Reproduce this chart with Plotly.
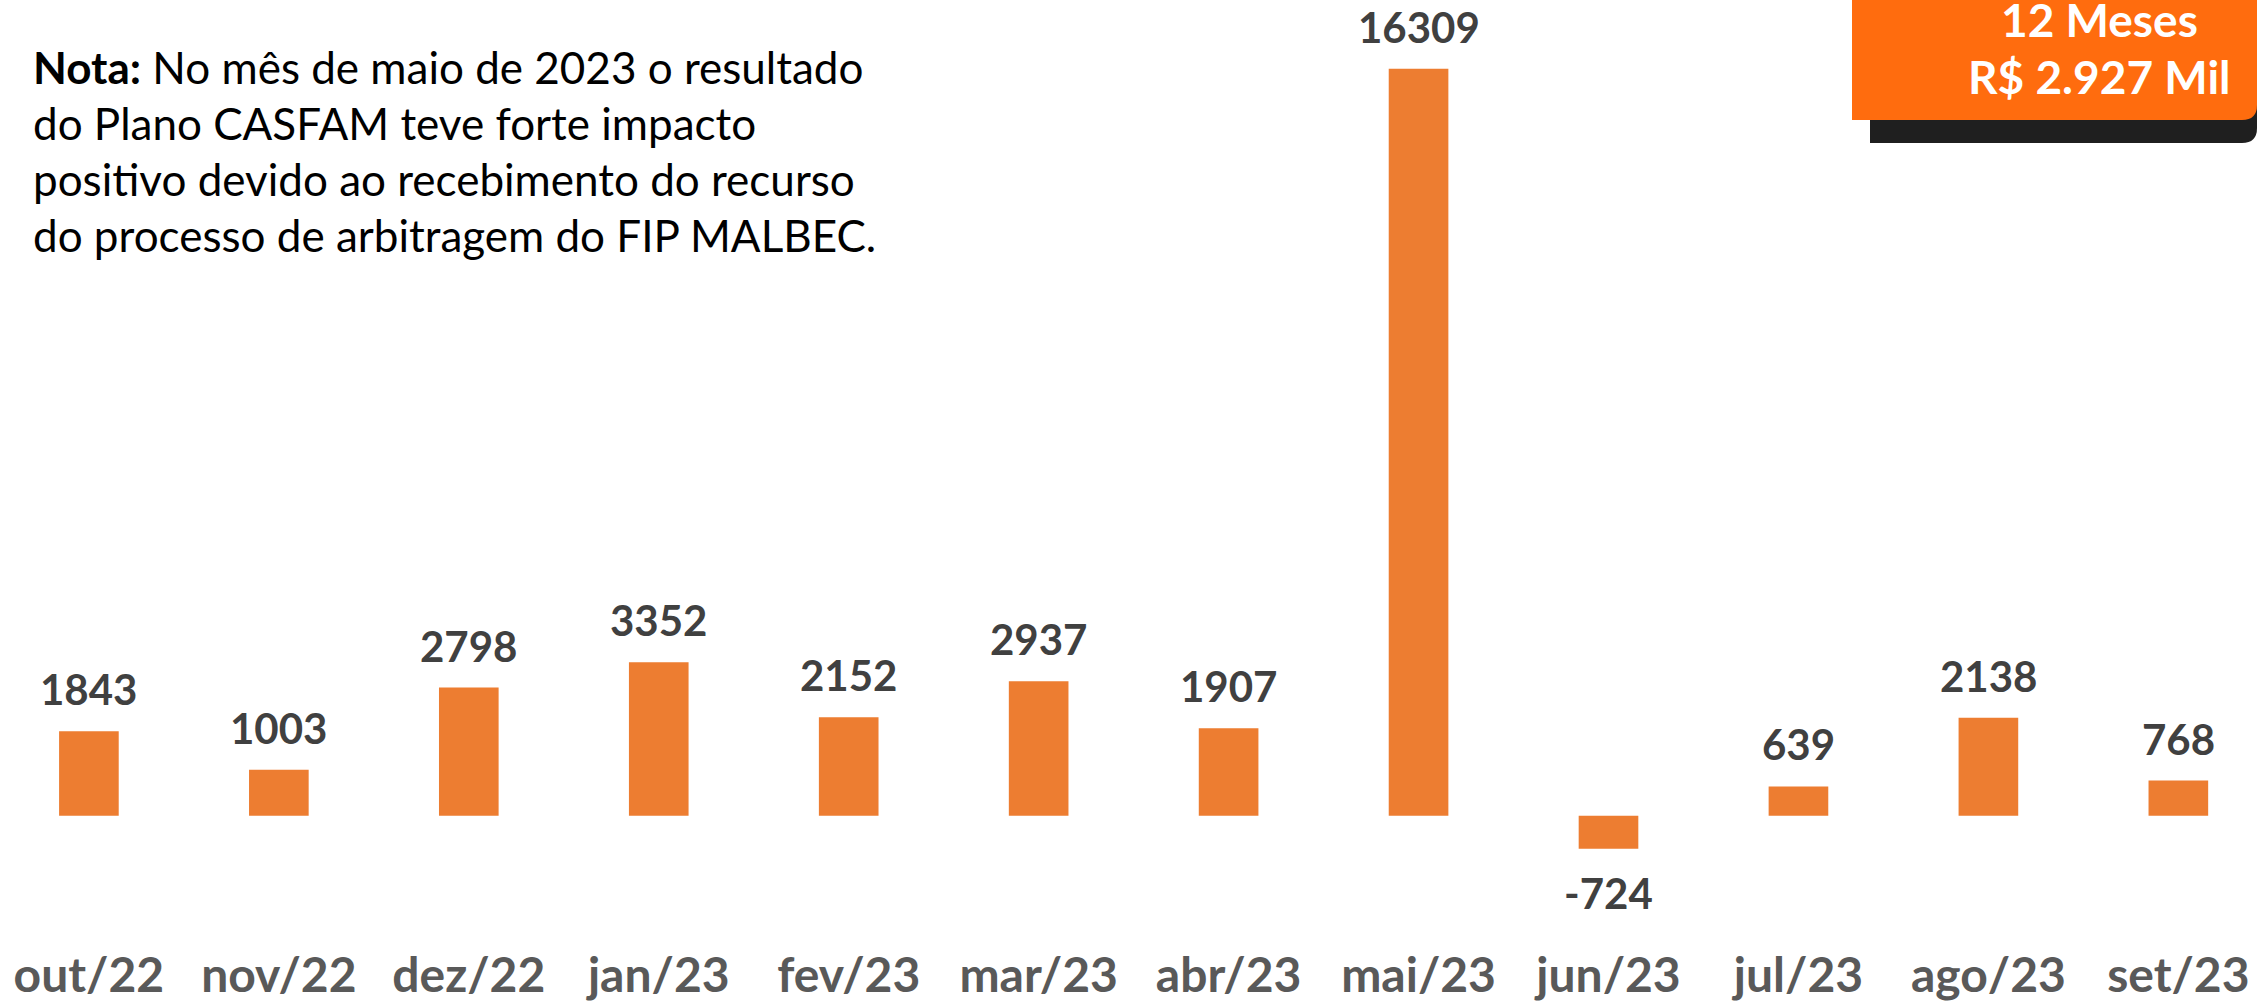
import plotly.graph_objects as go

W, H = 2257, 1001

months = ["out/22", "nov/22", "dez/22", "jan/23", "fev/23", "mar/23",
          "abr/23", "mai/23", "jun/23", "jul/23", "ago/23", "set/23"]
values = [1843, 1003, 2798, 3352, 2152, 2937, 1907, 16309, -724, 639, 2138, 768]

note_lines = [
    "<b>Nota:</b> No mês de maio de 2023 o resultado",
    "do Plano CASFAM teve forte impacto",
    "positivo devido ao recebimento do recurso",
    "do processo de arbitragem do FIP MALBEC.",
]
box_lines = ["12 Meses", "R$ 2.927 Mil"]

BAR = "#ED7D31"
FONT = "Lato"

# layout geometry (pixels)
plot_bottom = 943
baseline_px = 815.7
px_per_unit = 0.0458
y_top = baseline_px / px_per_unit
y_bot = (baseline_px - plot_bottom) / px_per_unit
cat0_px, cat_step = 88.9, 189.95
x_lo = -cat0_px / cat_step
x_hi = (W - cat0_px) / cat_step

fig = go.Figure()
fig.add_trace(go.Bar(
    x=months, y=values, marker=dict(color=BAR, line=dict(width=0)),
    width=0.314, hoverinfo="skip", showlegend=False,
))

annotations = []
for m, v in zip(months, values):
    annotations.append(dict(
        x=m, y=v, xref="x", yref="y", text=f"<b>{v}</b>", showarrow=False,
        yanchor="middle", xanchor="center", yshift=42 if v >= 0 else -44,
        font=dict(family=FONT, size=42, color="#404040"),
    ))

def py(px):
    return 1 - px / H

note_y = [67, 123, 179, 235]
for t, yy in zip(note_lines, note_y):
    annotations.append(dict(
        x=31 / W, y=py(yy), xref="paper", yref="paper", text=t,
        showarrow=False, xanchor="left", yanchor="middle",
        font=dict(family=FONT, size=44, color="#000000"),
    ))

for t, yy in zip(box_lines, [20, 77]):
    annotations.append(dict(
        x=2099 / W, y=py(yy), xref="paper", yref="paper", text=f"<b>{t}</b>",
        showarrow=False, xanchor="center", yanchor="middle",
        font=dict(family=FONT, size=46, color="#FFFFFF"),
    ))

r_x, r_y = 15 / W, 15 / H
def box_path(x0, x1, y0px, y1px):
    y0, y1 = py(y1px), py(y0px)  # y0 bottom, y1 top (paper)
    return (f"M {x0},{y1} L {x1},{y1} L {x1},{y0 + r_y} "
            f"Q {x1},{y0} {x1 - r_x},{y0} L {x0},{y0} Z")

shapes = [
    dict(type="path", xref="paper", yref="paper",
         path=box_path(1870 / W, 1.0, 100, 143),
         fillcolor="#1F1F1F", line=dict(width=0), layer="above"),
    dict(type="path", xref="paper", yref="paper",
         path=box_path(1852 / W, 1.0, 0, 120),
         fillcolor="#FF6C0E", line=dict(width=0), layer="above"),
]

fig.update_layout(
    width=W, height=H,
    margin=dict(l=0, r=0, t=0, b=0),
    paper_bgcolor="white", plot_bgcolor="white",
    xaxis=dict(range=[x_lo, x_hi], showgrid=False, zeroline=False,
               showline=False, ticks="", automargin=False,
               tickfont=dict(family=FONT, size=48, color="#595959"),
               tickprefix="<b>", ticksuffix="</b>"),
    yaxis=dict(range=[y_bot, y_top], domain=[(H - plot_bottom) / H, 1],
               showgrid=False, zeroline=False, showline=False,
               showticklabels=False, automargin=False),
    annotations=annotations,
    shapes=shapes,
)

fig.write_html(
    "out.html",
    config={"displayModeBar": False},
    post_script="document.body.style.margin='0';document.body.style.overflow='hidden';",
)
